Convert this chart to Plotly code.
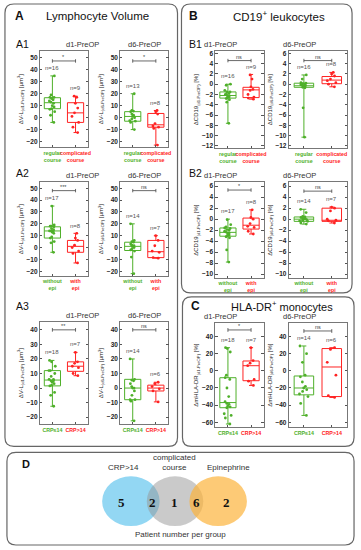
import plotly.graph_objects as go

W, H = 361, 550
GREEN = '#4fb02a'
RED = '#ff2222'

# ---------------- data (points and five-number box summaries [min, q1, median, q3, max]) ----------------
A1_D1_G = [35, 19, 17, 17, 16, 15, 14, 13, 12, 10, 9, 7.5, 7, 5, 2, -4]
A1_D1_G_BOX = [-4, 7.5, 12.5, 16.7, 35]
A1_D1_R = [18, 17, 12, 8, 4, 1, -4, -8, -12.5]
A1_D1_R_BOX = [-12.5, -4, 4, 12.5, 18]
A1_D6_G = [20, 6, 5.5, 5, 3, 2, 1, 0, -1, -2.5, -3, -4, -10]
A1_D6_G_BOX = [-10, -3, 1, 5, 20]
A1_D6_R = [6, 5, 3, -5, -7, -8, -9, -23]
A1_D6_R_BOX = [-23, -8, -6, 3.5, 6]

A2_D1_G = [35, 19, 18, 18, 17.5, 16, 15, 14, 14, 14, 13, 12, 9, 8, 5, 4, -4]
A2_D1_G_BOX = [-4, 8, 14, 17.5, 35]
A2_D1_R = [12, 8, 6, 2, 0, -3, -5, -13]
A2_D1_R_BOX = [-13, -4, 1, 6, 12]
A2_D6_G = [20, 6, 5, 4.5, 3, 2, 1.5, 1, 0, -1, -2, -3, -8, -22]
A2_D6_G_BOX = [-22, -2.5, 1, 4.5, 20]
A2_D6_R = [10, 6, 1.5, -3, -4, -8.5, -9]
A2_D6_R_BOX = [-9, -8.5, -3.5, 6, 10]

A3_D1_G = [19, 18, 15, 12, 12, 10, 8, 6, 6, 5, 5, 4, 3, 2, 1.5, -3, -5, -12.5]
A3_D1_G_BOX = [-12.5, 1.5, 5.5, 12, 19]
A3_D1_R = [24.5, 18, 17, 15, 14, 10, 8.5]
A3_D1_R_BOX = [8.5, 11.5, 15, 18, 24.5]
A3_D6_G = [20, 6, 5.5, 5, 3, 1, 0, 0, -2, -5, -8, -8, -9, -22.5]
A3_D6_G_BOX = [-22.5, -8, 0, 6, 20]
A3_D6_R = [4, 3, 1, -0.5, -2, -9.5]
A3_D6_R_BOX = [-9.5, -2, 0, 2, 4]

B1_D1_G = [0, -0.2, -1.2, -1.5, -1.5, -1.8, -2, -2, -2.2, -2.4, -2.5, -2.6, -2.8, -3, -3.5, -7.6]
B1_D1_G_BOX = [-7.6, -2.7, -2.2, -1.5, 0]
B1_D1_R = [1.8, 1, -0.5, -1, -1.2, -2, -2.5, -2.7, -2.9]
B1_D1_R_BOX = [-2.9, -2.6, -1.1, -0.6, 1.9]
B1_D6_G = [1.8, 1, 0.3, 0.2, 0.1, 0, -0.1, -0.2, -0.3, -0.4, -0.5, -0.5, -0.6, -0.7, -4.6, -10.3]
B1_D6_G_BOX = [-10.3, -0.6, -0.3, 0.2, 1.8]
B1_D6_R = [2.3, 2, 1.6, 1, 0.7, 0.3, 0, -0.5]
B1_D6_R_BOX = [-0.5, 0.1, 0.8, 1.5, 2.3]

B2_D1_G = [-0.1, -1, -1.4, -1.6, -1.7, -1.9, -2, -2.2, -2.4, -2.5, -2.7, -2.9, -3, -3.2, -3.4, -5.6, -7.8]
B2_D1_G_BOX = [-7.8, -3.1, -2.4, -1.6, 0]
B2_D1_R = [1.7, 0.3, 0, -0.8, -1.3, -1.5, -2.2, -2.7]
B2_D1_R_BOX = [-2.7, -1.8, -1.1, 0.2, 1.7]
B2_D6_G = [1.8, 1.2, 0.5, 0.4, 0.3, 0.2, 0.1, 0, -0.1, -0.2, -0.3, -0.4, -0.7, -0.9]
B2_D6_G_BOX = [-0.9, -0.4, 0, 0.4, 1.8]
B2_D6_R = [2.2, 2, 1.5, 0, -0.2, -0.3, -0.7]
B2_D6_R_BOX = [-0.7, -0.4, -0.2, 2, 2.2]

C_D1_G = [27, 26, 22, -5, -8, -10, -20, -30, -36, -38, -39, -41, -42, -43, -50, -52, -55, -62]
C_D1_G_BOX = [-62, -43, -37, -8, 27]
C_D1_R = [27, 12, 9, 6, -10, -12, -17]
C_D1_R_BOX = [-17, -11.5, 6, 11.5, 27]
C_D6_G = [29, 20, 10, -5, -7, -13, -18, -20, -22, -24, -27, -30, -38, -52]
C_D6_G_BOX = [-52, -28, -20, -6, 29]
C_D6_R = [27, 25, 10, -5, -29, -31]
C_D6_R_BOX = [-31, -30, 4.5, 26, 27]

CAT_COURSE = ["regular<br>course", "complicated<br>course"]
CAT_EPI = ["without<br>epi", "with<br>epi"]
CAT_CRP = ["CRP≤14", "CRP>14"]

SIG = {"A1d1": "*", "A1d6": "*", "A2d1": "***", "A2d6": "ns", "A3d1": "**", "A3d6": "ns",
       "B1d1": "ns", "B1d6": "ns", "B2d1": "*", "B2d6": "ns", "Cd1": "*", "Cd6": "ns"}
SIG_Y = {"A1d1": 47.5, "A1d6": 47.5, "A2d1": 48, "A2d6": 48, "A3d1": 40, "A3d6": 40,
         "B1d1": 4.6, "B1d6": 4.6, "B2d1": 5.3, "B2d6": 5.1, "Cd1": 47.7, "Cd6": 46.5}

VENN_SETS = ["CRP>14", "complicated<br>course", "Epinephrine"]
VENN_COUNTS = [5, 2, 1, 6, 2]

# ---------------- layout helpers ----------------
XL_A, XR_A = (40, 89), (121, 170)
XL_B, XR_B = (217, 266), (291, 350)

panels = [
    ("A1d1", XL_A, (50, 147), [-25, 56], 10, "d1-PreOP", "ΔV-L<sub>(d1-PreOP)</sub> [µm<sup>3</sup>]", CAT_COURSE, A1_D1_G, A1_D1_G_BOX, A1_D1_R, A1_D1_R_BOX),
    ("A1d6", XR_A, (50, 147), [-25, 56], 10, "d6-PreOP", "ΔV-L<sub>(d6-PreOP)</sub> [µm<sup>3</sup>]", CAT_COURSE, A1_D6_G, A1_D6_G_BOX, A1_D6_R, A1_D6_R_BOX),
    ("A2d1", XL_A, (182, 276), [-24, 55], 10, "d1-PreOP", "ΔV-L<sub>(d1-PreOP)</sub> [µm<sup>3</sup>]", CAT_EPI, A2_D1_G, A2_D1_G_BOX, A2_D1_R, A2_D1_R_BOX),
    ("A2d6", XR_A, (182, 276), [-24, 55], 10, "d6-PreOP", "ΔV-L<sub>(d6-PreOP)</sub> [µm<sup>3</sup>]", CAT_EPI, A2_D6_G, A2_D6_G_BOX, A2_D6_R, A2_D6_R_BOX),
    ("A3d1", XL_A, (322, 425), [-25, 45.5], 10, "d1-PreOP", "ΔV-L<sub>(d1-PreOP)</sub> [µm<sup>3</sup>]", CAT_CRP, A3_D1_G, A3_D1_G_BOX, A3_D1_R, A3_D1_R_BOX),
    ("A3d6", XR_A, (322, 425), [-25, 45.5], 10, "d6-PreOP", "ΔV-L<sub>(d6-PreOP)</sub> [µm<sup>3</sup>]", CAT_CRP, A3_D6_G, A3_D6_G_BOX, A3_D6_R, A3_D6_R_BOX),
    ("B1d1", XL_B, (50, 148), [-12.5, 6.5], 2, "d1-PreOP", "ΔCD19<sub>(d1-PreOP)</sub> [%]", CAT_COURSE, B1_D1_G, B1_D1_G_BOX, B1_D1_R, B1_D1_R_BOX),
    ("B1d6", XR_B, (50, 148), [-12.5, 6.5], 2, "d6-PreOP", "ΔCD19<sub>(d6-PreOP)</sub> [%]", CAT_COURSE, B1_D6_G, B1_D6_G_BOX, B1_D6_R, B1_D6_R_BOX),
    ("B2d1", XL_B, (182, 278), [-10.7, 6.7], 2, "d1-PreOP", "ΔCD19<sub>(d1-PreOP)</sub> [%]", CAT_EPI, B2_D1_G, B2_D1_G_BOX, B2_D1_R, B2_D1_R_BOX),
    ("B2d6", XR_B, (182, 278), [-10.7, 6.7], 2, "d6-PreOP", "ΔCD19<sub>(d6-PreOP)</sub> [%]", CAT_EPI, B2_D6_G, B2_D6_G_BOX, B2_D6_R, B2_D6_R_BOX),
    ("Cd1", XL_B, (323, 428), [-66, 56], 20, "d1-PreOP", "ΔmHLA-DR<sub>(d1-PreOP)</sub> [%]", CAT_CRP, C_D1_G, C_D1_G_BOX, C_D1_R, C_D1_R_BOX),
    ("Cd6", XR_B, (323, 428), [-66, 56], 20, "d6-PreOP", "ΔmHLA-DR<sub>(d6-PreOP)</sub> [%]", CAT_CRP, C_D6_G, C_D6_G_BOX, C_D6_R, C_D6_R_BOX),
]


def px(x):
    return x / W


def py(y):
    return 1 - y / H


def rrect(x0, y0, x1, y1, r=9):
    def P(a, b):
        return f"{px(a):.5f},{py(b):.5f}"
    return (f"M {P(x0 + r, y0)} L {P(x1 - r, y0)} Q {P(x1, y0)} {P(x1, y0 + r)} "
            f"L {P(x1, y1 - r)} Q {P(x1, y1)} {P(x1 - r, y1)} L {P(x0 + r, y1)} "
            f"Q {P(x0, y1)} {P(x0, y1 - r)} L {P(x0, y0 + r)} Q {P(x0, y0)} {P(x0 + r, y0)} Z")


fig = go.Figure()
layout = {}
shapes = []
annotations = []
FONT = "Liberation Sans, Arial, sans-serif"

for i, (key, xd, yd, yr, dt, title, ytitle, cats, g, gb, r, rb) in enumerate(panels, start=1):
    xa, ya = f"x{i}", f"y{i}"
    sfx = "" if i == 1 else str(i)
    layout[f"xaxis{sfx}"] = dict(
        domain=[px(xd[0]), px(xd[1])], range=[-0.55, 1.55], anchor=ya,
        tickvals=[0, 1], tickangle=0,
        ticktext=[f"<span style='color:{GREEN}'><b>{cats[0]}</b></span>",
                  f"<span style='color:{RED}'><b>{cats[1]}</b></span>"],
        tickfont=dict(size=5.3, family=FONT), showline=True, mirror=True,
        linecolor="#555", linewidth=0.8, ticks="inside", ticklen=2, tickcolor="#555",
        showgrid=False, zeroline=False, fixedrange=True)
    layout[f"yaxis{sfx}"] = dict(
        domain=[py(yd[1]), py(yd[0])], range=yr, anchor=xa, dtick=dt, tick0=0,
        tickfont=dict(size=6.5, family=FONT, color="#222", weight="bold"),
        showline=True, mirror="ticks", linecolor="#555", linewidth=0.8,
        ticks="inside", ticklen=2.5, tickcolor="#555", showgrid=False, zeroline=False,
        title=dict(text=ytitle, font=dict(size=6, family=FONT, color="#222"), standoff=2),
        fixedrange=True)

    span = yr[1] - yr[0]
    for pos, pts, box, col in ((0, g, gb, GREEN), (1, r, rb, RED)):
        fig.add_trace(go.Box(
            x=[pos], q1=[box[1]], median=[box[2]], q3=[box[3]],
            lowerfence=[box[0]], upperfence=[box[4]], width=0.7,
            fillcolor="rgba(255,255,255,0)", line=dict(color=col, width=1),
            whiskerwidth=0.25, boxpoints=False, xaxis=xa, yaxis=ya,
            showlegend=False, hoverinfo="skip"))
        fig.add_trace(go.Box(
            x=[pos] * len(pts), y=pts, boxpoints="all", jitter=0.55, pointpos=0,
            width=0.7, marker=dict(color=col, size=2.8),
            line=dict(width=0, color="rgba(0,0,0,0)"), fillcolor="rgba(0,0,0,0)",
            whiskerwidth=0, xaxis=xa, yaxis=ya, showlegend=False, hoverinfo="skip"))
        annotations.append(dict(
            x=pos, y=box[4] + 0.03 * span, xref=xa, yref=ya, text=f"n={len(pts)}",
            showarrow=False, yanchor="bottom", font=dict(size=6, family=FONT, color="#555")))

    sy = SIG_Y[key]
    d = 0.018 * span
    shapes.append(dict(type="line", xref=xa, yref=ya, x0=0, x1=1, y0=sy, y1=sy,
                       line=dict(color="#444", width=0.8)))
    for ex in (0, 1):
        shapes.append(dict(type="line", xref=xa, yref=ya, x0=ex, x1=ex, y0=sy - d, y1=sy + d,
                           line=dict(color="#444", width=0.8)))
    annotations.append(dict(x=0.5, y=sy, xref=xa, yref=ya, text=SIG[key], showarrow=False,
                            yanchor="bottom", yshift=-1, font=dict(size=5.5, family=FONT, color="#444")))
    annotations.append(dict(x=(px(xd[0]) + px(xd[1])) / 2, y=py(yd[0]), xref="paper", yref="paper",
                            text=title, showarrow=False, yanchor="bottom", yshift=0,
                            font=dict(size=7.5, family=FONT, color="#333")))

# panel frames
for (x0, y0, x1, y1) in [(5, 3, 179, 447), (183, 3, 355, 293), (184, 297, 357, 447), (7, 453, 357, 546)]:
    shapes.append(dict(type="path", xref="paper", yref="paper", path=rrect(x0, y0, x1, y1),
                       line=dict(color="#666", width=1.2), fillcolor="rgba(0,0,0,0)", layer="below"))


def label(x, y, text, size, bold=False, anchor="center", family=FONT, color="#111"):
    annotations.append(dict(x=px(x), y=py(y), xref="paper", yref="paper",
                            text=f"<b>{text}</b>" if bold else text, showarrow=False,
                            xanchor=anchor, yanchor="middle",
                            font=dict(size=size, family=family, color=color)))


label(13, 15, "A", 12, True, "left")
label(98, 15, "Lymphocyte Volume", 11.5)
label(189, 15, "B", 12, True, "left")
label(281, 15, "CD19<sup>+</sup> leukocytes", 11.5)
label(191, 306, "C", 12, True, "left")
label(284, 306, "HLA-DR<sup>+</sup> monocytes", 11)
label(14, 43, "A1", 10.5, False, "left")
label(14, 173, "A2", 10.5, False, "left")
label(14, 306, "A3", 10.5, False, "left")
label(189, 43, "B1", 10.5, False, "left")
label(189, 173, "B2", 10.5, False, "left")
label(20, 465, "D", 11, True, "left")

# Venn diagram
venn = [((103, 477, 161, 527), "rgba(120,205,240,0.8)"),
        ((148, 477, 205, 527), "rgba(150,150,150,0.5)"),
        ((191, 477, 249, 527), "rgba(252,180,60,0.7)")]
for (x0, y0, x1, y1), col in venn:
    shapes.append(dict(type="circle", xref="paper", yref="paper", x0=px(x0), x1=px(x1),
                       y0=py(y1), y1=py(y0), fillcolor=col, line=dict(width=0)))
label(125, 468, VENN_SETS[0], 8, color="#333")
label(176, 463, VENN_SETS[1], 8, color="#333")
label(230, 468, VENN_SETS[2], 8, color="#333")
for xc, c in zip([123, 154, 176, 198, 228], VENN_COUNTS):
    label(xc, 503, str(c), 13, True, family="Liberation Serif, Times New Roman, serif", color="#111")
label(182, 535, "Patient number per group", 8, color="#333")

fig.update_layout(**layout)
fig.update_layout(width=W, height=H, margin=dict(l=0, r=0, t=0, b=0),
                  paper_bgcolor="white", plot_bgcolor="white", shapes=shapes,
                  annotations=annotations, boxmode="overlay", showlegend=False,
                  font=dict(family=FONT))

fig.write_html("out.html", config={"displayModeBar": False, "staticPlot": True},
               post_script="document.body.style.margin='0px';")
